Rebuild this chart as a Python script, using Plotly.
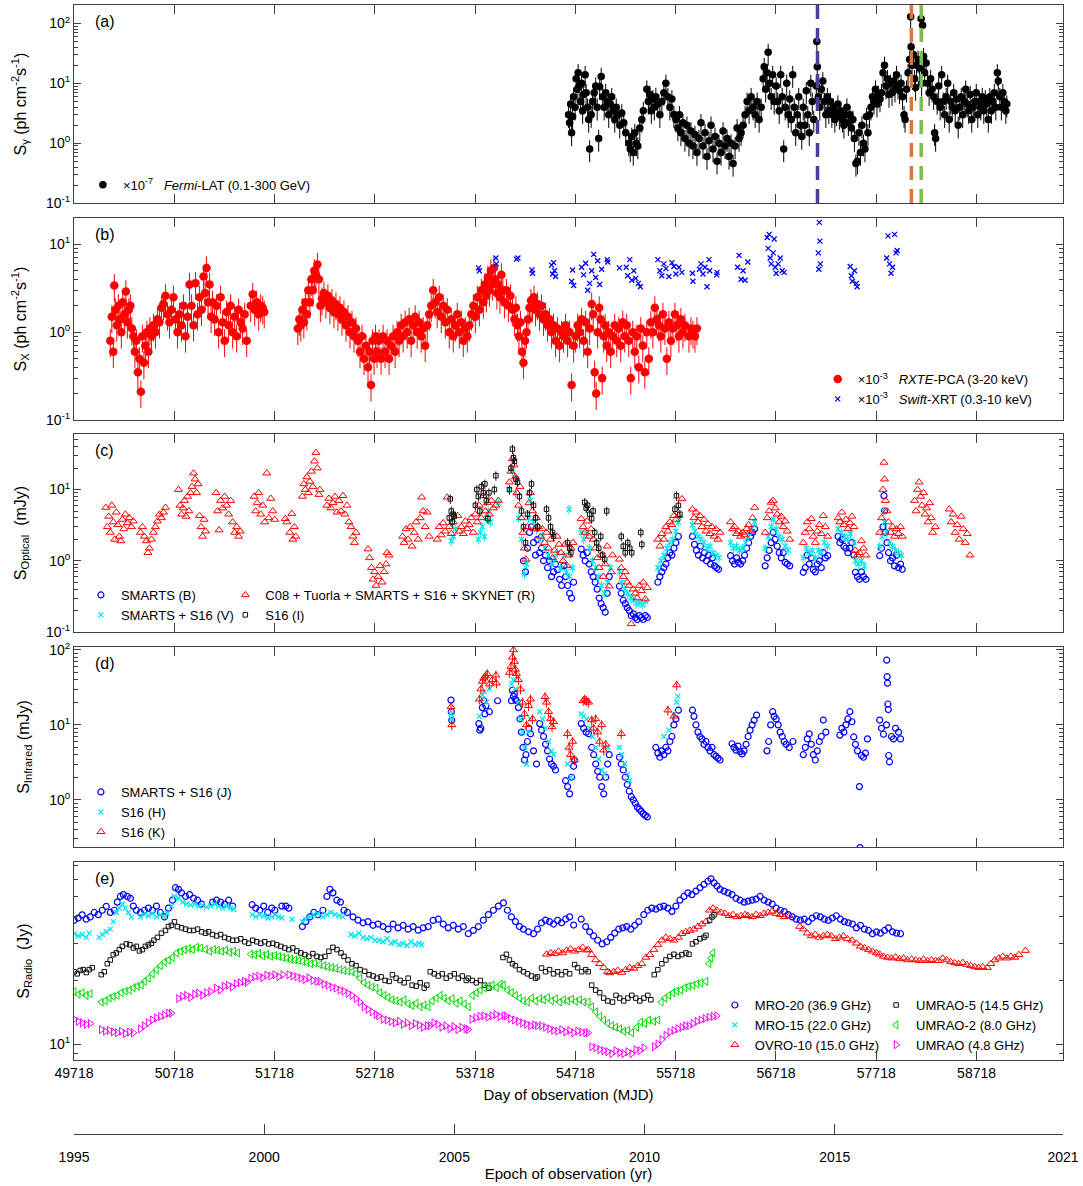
import plotly.graph_objects as go

# ---------------- (a) Fermi-LAT gamma rays (x1e-7 ph cm^-2 s^-1) ----------------
gamma_mjd = [54650, 54660, 54670, 54680, 54690, 54700, 54715, 54725, 54735, 54745, 54755, 54770, 54780, 54790,
             54800, 54815, 54825, 54840, 54850, 54860, 54875, 54890, 54905, 54920, 54935, 54950,
             54960, 54975, 54990, 55005, 55020, 55035, 55050, 55065, 55080, 55095, 55110, 55125, 55140, 55160,
             55180, 55200, 55220, 55250, 55265, 55280, 55295, 55310, 55325, 55340, 55360, 55380, 55395,
             55430, 55445, 55460, 55475, 55490, 55505, 55520, 55540, 55560, 55580, 55600, 55620, 55640, 55660,
             55680, 55700, 55720, 55740, 55755, 55770, 55790, 55810, 55830, 55850, 55870, 55890, 55910,
             55930, 55950, 55970, 55990, 56010, 56030, 56050, 56070, 56090, 56110, 56130, 56150, 56170, 56190,
             56210, 56230, 56250, 56270, 56290, 56310, 56330, 56350, 56370, 56390, 56410, 56430, 56450, 56470,
             56490, 56510, 56530, 56550, 56570, 56590, 56600, 56615, 56630, 56640, 56655, 56670, 56685, 56700,
             56720, 56735, 56750, 56765, 56780, 56795, 56810, 56825, 56840, 56855, 56870, 56885, 56900, 56915,
             56930, 56945, 56960, 56975, 56990, 57005, 57020, 57035, 57050, 57065, 57080, 57095, 57120, 57125,
             57130, 57140, 57155, 57170, 57185, 57200, 57215, 57230, 57245, 57260, 57275, 57290, 57305, 57320,
             57335, 57350, 57365, 57380, 57395, 57410, 57425, 57440, 57455, 57470, 57485, 57500, 57515, 57530,
             57545, 57560, 57575, 57590, 57605, 57620, 57635, 57650, 57665, 57680, 57695, 57710, 57725, 57740,
             57755, 57770, 57785, 57800, 57815, 57830, 57845, 57860, 57875, 57890, 57905, 57920, 57935, 57950,
             57965, 57980, 57995, 58005, 58020, 58035, 58050, 58061, 58065, 58075, 58090, 58100, 58110, 58120,
             58135, 58150, 58165, 58170, 58180, 58190, 58200, 58215, 58230, 58245, 58260, 58275, 58290, 58300,
             58310, 58325, 58340, 58355, 58370, 58385, 58400, 58415, 58430, 58445, 58460, 58475, 58490, 58505,
             58520, 58535, 58550, 58565, 58580, 58595, 58610, 58625, 58640, 58655, 58670, 58685, 58700, 58715,
             58730, 58745, 58760, 58775, 58790, 58805, 58820, 58835, 58850, 58865, 58880, 58895, 58910, 58925,
             58935, 58950, 58965, 58980, 58995, 59010, 59020]
gamma_flux = [3.0, 2.2, 4.5, 1.5, 2.8, 6.0, 4.0, 12.0, 8.0, 15.0, 9.0, 5.0, 10.0, 3.5,
              6.5, 14.0, 7.0, 4.0, 2.5, 0.8, 3.0, 5.0, 7.0, 9.0, 4.0, 1.2,
              8.8, 13.0, 6.0, 4.0, 7.0, 5.0, 3.0, 4.5, 6.0, 3.5, 2.5, 4.0, 3.0, 2.0,
              3.2, 2.2, 1.5, 1.0, 0.8, 1.3, 0.7, 1.5, 1.0, 0.9, 1.8, 2.5, 3.5,
              8.0, 5.0, 6.5, 3.5, 5.5, 4.0, 6.0, 4.5, 3.0, 5.0, 7.0, 10.0, 6.0, 4.0,
              5.5, 3.0, 2.5, 1.8, 3.0, 1.5, 2.2, 1.2, 2.0, 1.0, 1.6, 0.9, 1.4,
              0.7, 1.2, 2.2, 0.9, 1.5, 0.6, 1.1, 2.0, 0.8, 1.3, 0.5, 1.0, 0.7, 1.6,
              0.9, 1.2, 0.6, 1.0, 0.46, 0.9, 1.8, 1.2, 1.5, 2.0, 3.0, 5.0, 3.5, 6.0,
              4.0, 3.0, 5.0, 2.5, 4.0, 12.0, 19.0, 8.0, 15.0, 33.0, 10.0, 6.0, 14.0, 5.0,
              9.0, 5.0, 3.5, 14.0, 6.0, 0.8, 4.0, 10.0, 3.0, 5.5, 2.5, 14.0, 4.0, 1.5,
              3.0, 6.0, 2.0, 1.3, 4.0, 2.0, 7.5, 3.0, 1.5, 10.0, 5.0, 2.5, 9.0, 50.0,
              19.0, 6.0, 4.0, 8.0, 11.0, 5.0, 3.0, 6.0, 3.5, 5.0, 3.0, 4.0, 2.5, 3.2,
              4.5, 2.8, 3.5, 2.5, 2.0, 3.0, 4.0, 2.2, 3.0, 1.8, 2.5, 1.2, 0.46, 0.5,
              1.5, 0.7, 2.0, 1.0, 0.8, 2.8, 1.5, 3.0, 4.0, 6.0, 5.0, 8.0, 4.5, 6.5,
              5.5, 7.0, 15.0, 20.0, 9.0, 12.0, 6.5, 10.0, 7.0, 11.0, 8.0, 14.0, 9.0, 7.5,
              10.0, 6.0, 3.0, 2.5, 8.0, 15.0, 25.0, 130.0, 41.0, 20.0, 30.0, 12.0, 8.5, 20.0,
              25.0, 18.0, 120.0, 10.0, 94.0, 28.0, 15.0, 22.0, 10.0, 7.0, 12.0, 8.0, 6.0, 1.5,
              1.2, 5.0, 9.0, 4.0, 14.0, 5.0, 3.0, 6.0, 10.0, 2.5, 5.0, 4.0, 7.0, 3.5,
              5.5, 2.0, 4.0, 6.0, 3.0, 5.0, 8.0, 4.5, 3.5, 6.5, 2.5, 4.0, 5.0, 7.0,
              3.0, 5.0, 4.0, 6.0, 3.5, 5.5, 4.5, 2.5, 6.0, 3.5, 5.0, 7.0, 4.0, 15.0,
              11.0, 6.0, 4.0, 7.0, 5.0, 3.5, 4.5]

# flare epochs marked in panel (a)
flare_mjd = [57132, 58068, 58166]
flare_colors = ["#473f9c", "#df7438", "#7cbd4b"]

# ---------------- (b) X-rays (x1e-3 ph cm^-2 s^-1) ----------------
rxte_mjd = [50080, 50095, 50110, 50120, 50130, 50145, 50160, 50175, 50190, 50205, 50220, 50235, 50250, 50265,
            50280, 50295, 50310, 50325, 50340, 50355, 50370, 50385, 50400, 50415, 50430, 50445, 50460, 50475,
            50490, 50510, 50530, 50550, 50570, 50590, 50610, 50630, 50650, 50670, 50690, 50710, 50730, 50750,
            50770, 50790, 50810, 50830, 50850, 50870, 50890, 50910, 50930, 50950, 50970, 50990, 51010, 51025,
            51040, 51055, 51070, 51085, 51100, 51120, 51140, 51160, 51180, 51200, 51220, 51240, 51260, 51280,
            51300, 51320, 51340, 51360, 51380, 51400, 51420, 51440, 51480, 51500, 51520, 51540, 51560, 51580,
            51600, 51615,
            51950, 51965, 51980, 51995, 52010, 52025, 52040, 52055, 52070, 52085, 52100, 52115, 52130, 52145,
            52160, 52175, 52190, 52210, 52230, 52250, 52270, 52290, 52310, 52330, 52350, 52370, 52390, 52410,
            52430, 52450, 52470, 52490, 52510, 52530, 52550, 52570, 52590, 52610, 52630, 52650, 52665, 52680,
            52695, 52710, 52725, 52740, 52760, 52780, 52800, 52820, 52840, 52860, 52880, 52900, 52920, 52940,
            52960, 52980, 53000, 53020, 53040, 53060, 53080, 53100, 53120, 53140, 53160, 53180, 53200, 53220,
            53240, 53260, 53280, 53300, 53320, 53340, 53360, 53380, 53400, 53420, 53440, 53460, 53480, 53500,
            53520, 53540, 53560, 53580, 53600, 53620, 53640, 53660, 53680, 53700, 53720, 53740, 53760, 53780,
            53800, 53815, 53830, 53845, 53860, 53875, 53890, 53905, 53920, 53935, 53950, 53965, 53980, 53995,
            54010, 54030, 54050, 54070, 54090, 54110, 54125, 54140, 54155, 54170, 54185, 54200, 54215, 54230,
            54245, 54260, 54275, 54290, 54305, 54320, 54340, 54360, 54380, 54400, 54420, 54440, 54460, 54480,
            54500, 54520, 54540, 54560, 54580, 54600, 54620, 54640, 54660, 54680, 54700, 54720, 54740, 54760,
            54780, 54800, 54820, 54840, 54860, 54880, 54895, 54910, 54925, 54940, 54955, 54970, 54985, 55000,
            55015, 55030, 55050, 55070, 55090, 55110, 55130, 55150, 55170, 55190, 55210, 55230, 55250, 55270,
            55290, 55310, 55330, 55350, 55370, 55390, 55410, 55430, 55450, 55470, 55490, 55510, 55530, 55550,
            55570, 55590, 55610, 55630, 55650, 55670, 55690, 55710, 55730, 55750, 55770, 55790, 55810, 55850,
            55870, 55890, 55910, 55930]
rxte_flux = [0.8, 1.5, 0.6, 3.4, 1.8, 1.2, 2.0, 1.4, 1.0, 2.2, 1.6, 2.9, 1.3, 1.8,
             2.0, 1.1, 0.9, 0.6, 0.8, 0.35, 0.5, 0.21, 0.9, 0.45, 0.7, 1.0, 0.6, 1.1,
             0.9, 1.2, 1.0, 1.4, 1.3, 1.9, 2.1, 2.6, 1.6, 1.3, 1.8, 2.5, 1.4, 1.0,
             1.6, 1.2, 2.0, 0.9, 1.5, 3.5, 2.0, 1.2, 3.6, 1.6, 2.5, 1.8, 4.3, 2.8,
             5.4, 2.2, 3.5, 1.5, 2.2, 1.4, 2.0, 1.0, 2.5, 1.3, 0.8, 1.7, 1.2, 2.0,
             1.0, 1.5, 0.9, 1.8, 1.3, 1.1, 1.6, 0.8, 2.0, 2.7, 1.8, 2.2, 1.6, 2.0,
             1.9, 1.7,
             1.1, 1.4, 1.2, 1.8, 1.3, 2.2, 1.6, 3.0, 2.2, 4.0, 3.0, 5.0, 4.5, 5.9,
             4.0, 2.0, 2.4, 2.8, 2.2, 2.6, 1.9, 2.3, 1.7, 2.1, 1.6, 1.9, 1.4, 1.7,
             1.2, 1.5, 1.0, 1.3, 0.9, 1.1, 0.8, 0.6, 0.9, 0.5, 0.7, 0.4, 0.6, 0.25,
             0.8, 0.5, 0.9, 0.6, 0.8, 0.5, 0.9, 0.6, 0.8, 0.5, 0.7, 0.9, 0.6, 1.0,
             0.8, 1.2, 0.9, 1.3, 1.0, 1.4, 0.8, 1.2, 1.5, 1.0, 1.3, 0.9, 1.1, 0.7,
             1.2, 1.6, 2.0, 3.0, 2.2, 1.7, 2.5, 1.5, 2.0, 1.3, 1.8, 1.0, 1.4, 0.9,
             1.2, 1.6, 1.0, 1.3, 0.8, 1.1, 0.9, 1.2, 1.6, 2.0, 1.5, 2.5, 1.8, 3.0,
             2.2, 3.5, 2.6, 4.2, 3.0, 5.0, 3.5, 5.4, 4.0, 2.8, 3.5, 2.5, 4.5, 3.0,
             2.2, 3.0, 2.0, 2.6, 1.8, 1.4, 1.9, 1.2, 0.9, 1.3, 0.6, 0.45, 0.8, 1.0,
             1.4, 1.9, 2.3, 2.0, 2.5, 1.8, 2.1, 1.6, 2.0, 1.4, 1.6, 1.2, 1.4, 1.0,
             1.2, 0.8, 1.1, 0.7, 1.0, 0.9, 1.2, 0.8, 1.0, 0.25, 0.7, 0.9, 1.2, 1.0,
             1.4, 0.8, 1.3, 0.6, 1.1, 2.1, 1.6, 0.35, 0.2, 1.0, 1.9, 1.4, 0.3, 0.9,
             1.2, 0.7, 1.0, 0.6, 0.9, 1.2, 0.8, 1.1, 0.7, 1.3, 0.9, 1.2, 0.8, 0.3,
             1.0, 0.6, 0.9, 0.4, 1.1, 0.7, 0.35, 1.0, 0.5, 1.3, 1.0, 1.9, 1.4, 1.2,
             0.9, 1.6, 1.1, 0.5, 1.3, 0.8, 1.1, 1.6, 1.2, 0.9, 1.4, 1.0, 1.2, 0.9,
             1.1, 1.0, 0.9, 1.1]

swift_mjd = [53752, 53760, 53925, 53930, 54130, 54145, 54285, 54290, 54480, 54490, 54500, 54510, 54520,
             54680, 54690, 54700, 54780, 54800, 54820, 54840, 54860, 54880, 54900, 54920, 54940, 54960,
             54980, 55035, 55040, 55157, 55225, 55240, 55260, 55280, 55300, 55320, 55345, 55365, 55540,
             55560, 55580, 55600, 55620, 55650, 55680, 55700, 55720, 55750, 55780, 55885, 55890, 55955,
             55970, 55990, 56010, 56030, 56050, 56057, 56127, 56130, 56335, 56350, 56370, 56390, 56410,
             56437, 56630, 56640, 56650, 56660, 56670, 56690, 56700, 56710, 56720, 56740, 56760, 56780,
             56800, 57140, 57145, 57150, 57155, 57160, 57458, 57470, 57480, 57500, 57520, 57528, 57822,
             57835, 57850, 57865, 57880, 57900, 57915, 57926]
swift_flux = [5.4, 5.0, 7.0, 6.0, 6.8, 7.0, 5.1, 4.7, 5.8, 4.6, 6.2, 5.0, 4.3,
              3.8, 5.1, 3.4, 5.5, 4.5, 6.1, 3.0, 3.6, 5.0, 7.7, 4.2, 6.5, 3.5,
              5.2, 6.7, 6.3, 5.4, 5.5, 4.4, 6.7, 3.9, 5.0, 4.1, 3.6, 3.3, 6.7,
              5.0, 4.4, 6.0, 5.3, 4.3, 6.2, 5.6, 4.6, 5.5, 4.8, 4.7, 3.8, 5.2,
              6.0, 4.6, 5.5, 3.3, 6.7, 5.0, 4.5, 4.8, 5.5, 7.5, 4.0, 5.0, 3.9,
              6.3, 12.0, 9.0, 13.0, 7.0, 6.0, 8.0, 11.5, 5.5, 4.7, 6.0, 7.0, 5.0,
              4.8, 8.0, 5.2, 17.8, 10.9, 6.0, 5.6, 4.4, 3.8, 5.0, 3.6, 3.3, 7.0,
              12.5, 6.0, 4.7, 5.5, 13.0, 8.0, 8.5]

# ---------------- (c) Optical (mJy) ----------------
optR_mjd = [50035, 50050, 50065, 50080, 50095, 50110, 50125, 50140, 50155, 50170, 50185, 50200, 50215, 50230,
            50250, 50270, 50290, 50310, 50380, 50400, 50420, 50440, 50455, 50470, 50490, 50510, 50530, 50550,
            50570, 50590, 50610, 50630, 50760, 50775, 50790, 50805, 50820, 50835, 50850, 50865, 50880, 50895,
            50910, 50925, 50940, 50955, 50970, 50985, 51000, 51015, 51030, 51135, 51150, 51165, 51180, 51200,
            51220, 51240, 51260, 51280, 51300, 51320, 51340, 51360, 51375, 51515, 51530, 51545, 51560, 51580,
            51600, 51620, 51640, 51660, 51680, 51700, 51720, 51825, 51840, 51870, 51890, 51900, 51915, 51930,
            51995, 52010, 52025, 52040, 52055, 52070, 52085, 52100, 52115, 52130, 52145, 52160, 52170, 52240,
            52260, 52280, 52300, 52320, 52340, 52360, 52380, 52400, 52420, 52440, 52460, 52480, 52500, 52515,
            52530, 52650, 52665, 52685, 52700, 52715, 52730, 52750, 52770, 52790, 52810, 52830, 52840, 52860,
            52995, 53010, 53030, 53050, 53070, 53090, 53110, 53130, 53150, 53170, 53185, 53200, 53220, 53240,
            53260, 53340, 53360, 53380, 53400, 53420, 53440, 53460, 53480, 53500, 53545, 53560, 53580, 53600,
            53620, 53640, 53660, 53680, 53700, 53720, 53740, 53760, 53780, 53800, 53820, 53840, 53860, 53880,
            53900, 53925, 53950, 54060, 54075, 54090, 54105, 54120, 54135, 54150, 54165, 54180, 54195, 54210,
            54225, 54240, 54255, 54270, 54290, 54310, 54330, 54350, 54370, 54390, 54410, 54430, 54450, 54470,
            54490, 54510, 54535, 54555, 54575, 54595, 54615, 54635, 54655, 54675, 54695, 54776, 54795, 54815,
            54835, 54855, 54875, 54895, 54915, 54935, 54955, 54975, 54995, 55015, 55035, 55055, 55075, 55088,
            55157, 55175, 55195, 55215, 55235, 55255, 55275, 55295, 55315, 55335, 55355, 55375, 55395, 55415,
            55435, 55540, 55560, 55580, 55600, 55620, 55640, 55660, 55680, 55700, 55720, 55745, 55780, 55885,
            55900, 55920, 55940, 55960, 55980, 56000, 56020, 56040, 56060, 56080, 56100, 56120, 56140, 56160,
            56265, 56285, 56305, 56325, 56345, 56365, 56385, 56405, 56425, 56445, 56465, 56485, 56505, 56610,
            56630, 56650, 56670, 56690, 56710, 56730, 56750, 56770, 56790, 56810, 56830, 56855, 56990, 57010,
            57030, 57050, 57070, 57090, 57110, 57130, 57150, 57170, 57190, 57210, 57234, 57337, 57355, 57375,
            57395, 57415, 57435, 57455, 57475, 57495, 57510, 57530, 57550, 57570, 57590, 57615, 57752, 57770,
            57785, 57795, 57800, 57810, 57825, 57840, 57860, 57880, 57900, 57920, 57940, 57960, 57977, 58100,
            58115, 58130, 58145, 58160, 58175, 58190, 58205, 58220, 58235, 58250, 58265, 58280, 58306, 58445,
            58465, 58485, 58505, 58525, 58545, 58565, 58585, 58605, 58625, 58652]
optR_flux = [5.6, 3.0, 4.2, 2.5, 6.0, 3.5, 2.0, 4.8, 3.2, 2.2, 1.9, 3.8, 2.8, 4.5,
             3.4, 4.0, 3.0, 3.6, 2.5, 3.0, 2.2, 1.9, 1.3, 1.5, 2.0, 2.5, 3.0, 3.6,
             4.5, 4.0, 4.8, 5.6, 10.0, 6.0, 4.5, 5.5, 7.0, 4.2, 8.0, 5.0, 9.0, 11.0,
             17.0, 14.0, 9.0, 12.0, 4.3, 3.0, 2.2, 3.8, 2.6, 9.0, 5.0, 2.7, 7.0, 5.5,
             8.0, 6.0, 4.5, 7.0, 3.5, 2.5, 3.0, 2.2, 2.6, 8.0, 5.0, 6.5, 9.0, 4.5,
             6.0, 3.5, 17.0, 4.0, 7.5, 5.0, 3.8, 3.9, 3.5, 2.5, 4.6, 2.0, 3.0, 2.2,
             8.0, 12.0, 10.0, 15.0, 9.0, 13.0, 18.0, 11.0, 25.0, 33.0, 20.0, 8.5, 10.0, 6.0,
             7.5, 5.5, 6.5, 8.0, 4.8, 7.0, 5.0, 8.2, 4.5, 6.0, 3.5, 3.0, 2.2, 1.8,
             2.5, 1.46, 1.1, 0.8, 0.55, 0.7, 0.45, 0.6, 0.85, 0.5, 0.7, 0.9, 1.3, 1.2,
             2.2, 1.8, 2.8, 2.0, 3.0, 1.6, 2.5, 3.5, 2.0, 4.0, 7.8, 5.0, 3.0, 4.8,
             2.2, 2.0, 3.0, 2.3, 3.4, 2.6, 7.8, 3.0, 2.4, 3.5, 4.3, 2.6, 3.0, 2.4,
             3.6, 2.8, 3.2, 4.0, 2.5, 4.5, 3.5, 6.0, 4.0, 8.2, 5.0, 6.5, 4.5, 7.0,
             5.5, 6.0, 7.0, 12.7, 18.0, 27.0, 22.0, 15.0, 9.0, 6.0, 11.0, 4.0, 2.5, 1.5,
             1.05, 3.0, 6.5, 9.0, 5.0, 2.8, 4.0, 3.0, 2.2, 2.8, 1.8, 2.5, 1.5, 2.0,
             1.1, 1.4, 2.2, 1.7, 1.3, 1.0, 1.7, 0.85, 1.2, 1.5, 1.8, 3.9, 3.0, 2.5,
             3.6, 2.2, 2.8, 2.0, 1.5, 1.1, 0.8, 1.2, 0.6, 0.9, 1.6, 0.44, 0.7, 1.2,
             1.05, 0.8, 0.6, 0.7, 0.5, 0.45, 0.13, 0.4, 0.35, 0.3, 0.45, 0.38, 0.5, 0.29,
             0.42, 2.0, 1.6, 2.4, 2.0, 3.0, 2.6, 3.5, 3.2, 4.3, 3.8, 4.3, 7.4, 5.3,
             4.0, 4.8, 3.5, 4.3, 3.0, 3.8, 2.6, 3.3, 2.4, 3.0, 2.2, 2.8, 2.0, 2.5,
             3.5, 2.8, 3.0, 2.4, 2.6, 2.2, 2.5, 2.3, 2.8, 3.2, 2.6, 4.0, 5.6, 2.5,
             4.0, 5.0, 6.6, 7.0, 5.5, 4.5, 3.5, 4.2, 3.0, 3.6, 2.6, 2.0, 1.8, 2.5,
             3.5, 2.8, 3.9, 2.2, 1.8, 2.6, 3.2, 2.4, 4.3, 3.0, 2.2, 4.0, 3.5, 4.8,
             3.2, 3.8, 2.8, 3.4, 4.2, 3.0, 1.4, 1.2, 1.3, 1.9, 1.5, 1.2, 2.5, 4.0,
             10.0, 24.0, 14.0, 7.0, 5.0, 3.5, 2.5, 3.0, 2.2, 2.8, 2.4, 3.0, 2.2, 7.0,
             5.0, 10.0, 12.7, 8.0, 6.0, 9.0, 4.5, 5.5, 3.5, 6.5, 4.0, 2.5, 3.0, 5.3,
             3.5, 4.5, 2.5, 3.2, 2.0, 4.2, 2.8, 1.8, 2.4, 1.2]

optB_mjd = [54200, 54220, 54240, 54260, 54280, 54300, 54320, 54340, 54360, 54380, 54400, 54420, 54440, 54460,
            54480, 54500, 54520, 54540, 54560, 54580, 54604, 54620, 54640, 54660, 54680, 54700, 54776, 54795,
            54815, 54835, 54855, 54875, 54895, 54915, 54935, 54955, 54975, 54995, 55015, 55035, 55055, 55157,
            55175, 55195, 55215, 55235, 55255, 55275, 55295, 55315, 55335, 55355, 55375, 55395, 55415, 55435,
            55540, 55560, 55580, 55600, 55620, 55640, 55660, 55680, 55700, 55720, 55745, 55885, 55905, 55925,
            55945, 55965, 55985, 56005, 56025, 56045, 56065, 56085, 56105, 56125, 56145, 56265, 56285, 56305,
            56325, 56345, 56365, 56385, 56405, 56425, 56445, 56465, 56485, 56505, 56610, 56630, 56650, 56670,
            56690, 56710, 56730, 56750, 56770, 56790, 56810, 56830, 56855, 56990, 57010, 57030, 57050, 57070,
            57090, 57110, 57130, 57150, 57170, 57190, 57210, 57234, 57337, 57355, 57375, 57395, 57415, 57435,
            57455, 57475, 57495, 57510, 57530, 57550, 57570, 57590, 57615, 57752, 57770, 57785, 57795, 57800,
            57810, 57825, 57840, 57860, 57880, 57900, 57920, 57940, 57960, 57977]
optB_flux = [1.0, 0.7, 1.5, 2.5, 3.0, 1.8, 1.2, 2.0, 1.3, 1.5, 1.0, 1.2, 0.8, 1.0,
             0.6, 0.7, 0.9, 0.75, 0.55, 0.45, 0.85, 0.6, 0.45, 0.35, 0.3, 0.5, 1.46, 1.2,
             1.0, 1.3, 0.9, 0.7, 0.6, 0.5, 0.4, 0.3, 0.25, 0.22, 0.19, 0.35, 0.6, 0.44,
             0.35, 0.28, 0.25, 0.22, 0.2, 0.17, 0.18, 0.16, 0.15, 0.17, 0.16, 0.15, 0.17, 0.16,
             0.5, 0.6, 0.7, 0.8, 0.9, 1.1, 1.3, 1.2, 1.5, 1.8, 2.2, 2.2, 1.7, 1.4,
             1.2, 1.6, 1.1, 1.3, 1.0, 1.2, 0.9, 1.1, 0.85, 0.8, 0.76, 1.18, 1.0, 0.9,
             1.1, 0.95, 0.9, 1.0, 1.2, 1.5, 1.8, 2.2, 2.5, 2.8, 0.85, 1.1, 1.4, 1.8,
             2.5, 2.0, 1.6, 1.3, 1.1, 1.3, 0.95, 0.9, 0.85, 0.69, 0.8, 1.2, 0.9, 1.1,
             0.75, 0.7, 0.9, 1.0, 0.8, 1.3, 1.1, 1.18, 2.2, 1.8, 2.0, 1.6, 1.5, 1.3,
             1.5, 1.8, 1.2, 0.69, 0.6, 0.55, 0.7, 0.6, 0.55, 1.18, 1.5, 3.0, 8.2, 5.0,
             2.5, 1.8, 1.3, 1.0, 1.1, 0.85, 1.2, 0.8, 0.9, 0.76]

optV_mjd = [53480, 53500, 53520, 53750, 53770, 53790, 53810, 53830, 53850, 53870, 53950, 54060, 54090, 54120,
            54150, 54180, 54210, 54230, 54250, 54270, 54300, 54330, 54360, 54390, 54420, 54450, 54480, 54510,
            54540, 54570, 54604, 54630, 54655, 54660, 54690, 54776, 54800, 54830, 54860, 54890, 54920, 54950,
            54980, 55010, 55040, 55070, 55157, 55180, 55210, 55240, 55270, 55300, 55330, 55360, 55390, 55420,
            55540, 55570, 55600, 55630, 55660, 55690, 55720, 55745, 55885, 55910, 55940, 55970, 56000, 56030,
            56060, 56090, 56120, 56150, 56265, 56295, 56325, 56355, 56385, 56415, 56445, 56475, 56505, 56610,
            56640, 56670, 56690, 56720, 56750, 56780, 56810, 56840, 56990, 57020, 57050, 57080, 57110, 57140,
            57170, 57200, 57234, 57337, 57370, 57400, 57430, 57460, 57495, 57510, 57540, 57570, 57600, 57752,
            57775, 57790, 57800, 57820, 57850, 57880, 57910, 57940, 57970]
optV_flux = [1.9, 2.2, 2.8, 2.0, 2.5, 3.0, 2.2, 4.0, 5.0, 3.5, 6.5, 10.0, 18.0, 9.0,
             4.0, 2.0, 0.65, 0.9, 4.0, 7.0, 3.5, 2.8, 2.0, 2.2, 1.5, 1.2, 0.9, 1.1,
             1.3, 0.8, 1.2, 0.7, 5.3, 0.6, 0.8, 2.5, 2.0, 2.4, 1.5, 1.0, 0.8, 0.6,
             0.45, 0.35, 0.5, 0.8, 0.7, 0.5, 0.4, 0.35, 0.3, 0.28, 0.25, 0.26, 0.24, 0.27,
             0.8, 1.0, 1.2, 1.5, 1.8, 2.0, 2.6, 3.5, 3.2, 2.6, 2.2, 2.0, 1.8, 1.5,
             1.6, 1.3, 1.2, 1.1, 1.8, 1.5, 1.6, 1.4, 1.5, 1.8, 2.2, 2.8, 3.5, 1.5,
             2.2, 3.0, 3.8, 2.8, 2.2, 2.0, 1.6, 1.4, 1.1, 1.5, 1.3, 1.4, 1.1, 1.4,
             1.3, 1.8, 1.6, 2.8, 2.5, 2.2, 2.0, 2.4, 1.8, 1.0, 0.9, 1.0, 0.85, 1.6,
             2.2, 5.0, 3.5, 2.5, 1.8, 1.6, 1.4, 1.3, 1.2]

optI_mjd = [53460, 53470, 53480, 53490, 53500, 53510, 53720, 53735, 53750, 53765, 53780, 53800, 53815, 53830,
            53845, 53855, 53910, 53925, 54060, 54075, 54090, 54100, 54110, 54125, 54140, 54160, 54180, 54200,
            54220, 54240, 54260, 54280, 54300, 54320, 54340, 54430, 54450, 54470, 54490, 54500, 54640, 54660,
            54673, 54810, 54825, 54840, 54860, 54880, 54895, 54910, 54930, 54950, 54970, 54990, 55010, 55030,
            55175, 55195, 55215, 55240, 55260, 55280, 55370, 55380, 55710, 55725, 55745, 55760]
optI_flux = [4.0, 7.4, 5.0, 3.5, 4.5, 4.2, 6.0, 10.0, 8.0, 5.0, 11.0, 9.0, 12.0, 7.0,
             3.9, 9.0, 10.0, 15.7, 10.0, 20.0, 37.0, 28.0, 25.0, 14.0, 12.7, 8.0, 5.0, 3.0,
             1.8, 4.5, 9.0, 12.0, 6.0, 4.0, 3.0, 5.3, 4.0, 3.0, 2.5, 2.2, 1.8, 1.5,
             1.3, 6.6, 5.5, 6.0, 4.5, 3.9, 5.0, 2.5, 1.8, 1.5, 2.2, 1.2, 1.05, 5.0,
             2.2, 1.6, 1.3, 1.8, 1.5, 1.3, 2.5, 1.7, 5.3, 8.2, 6.0, 4.5]

# ---------------- (d) Infrared (mJy) ----------------
irJ_mjd = [53477, 53480, 53485, 53755, 53765, 53775, 53790, 53805, 53815, 53825, 53860, 53942, 54080, 54090,
           54100, 54110, 54120, 54130, 54150, 54165, 54180, 54195, 54210, 54225, 54240, 54255, 54270, 54300,
           54330, 54362, 54380, 54400, 54420, 54440, 54460, 54480, 54500, 54520, 54620, 54640, 54660, 54680,
           54700, 54708, 54776, 54800, 54825, 54850, 54880, 54900, 54920, 54940, 54960, 54980, 55000, 55020,
           55040, 55055, 55157, 55175, 55195, 55215, 55235, 55255, 55275, 55295, 55315, 55335, 55355, 55375,
           55395, 55415, 55435, 55520, 55540, 55560, 55580, 55600, 55620, 55640, 55660, 55680, 55700, 55720,
           55745, 55885, 55900, 55920, 55940, 55960, 55980, 56000, 56020, 56040, 56060, 56080, 56100, 56120,
           56140, 56160, 56280, 56300, 56320, 56340, 56360, 56380, 56400, 56420, 56440, 56460, 56480, 56500,
           56525, 56628, 56645, 56665, 56685, 56700, 56720, 56740, 56760, 56780, 56800, 56820, 56850, 56887,
           56990, 57010, 57030, 57050, 57070, 57090, 57110, 57130, 57150, 57170, 57190, 57215, 57355, 57375,
           57395, 57415, 57435, 57455, 57475, 57493, 57510, 57530, 57550, 57555, 57570, 57590, 57610, 57630,
           57752, 57770, 57790, 57820, 57822, 57826, 57830, 57834, 57838, 57842, 57850, 57870, 57890, 57910,
           57940, 57960]
irJ_flux = [21.4, 15.0, 11.5, 10.4, 8.5, 9.0, 17.0, 21.0, 14.0, 18.0, 15.0, 21.0, 21.0, 29.0,
            24.0, 26.0, 22.0, 21.0, 17.0, 12.0, 8.0, 5.0, 3.4, 4.0, 6.0, 9.0, 7.6, 4.5,
            3.0, 10.4, 8.5, 7.0, 5.5, 4.5, 3.5, 3.0, 2.8, 2.5, 1.8, 1.5, 1.2, 2.0,
            2.8, 3.4, 10.4, 9.0, 8.0, 7.6, 5.0, 4.0, 3.0, 2.4, 2.0, 1.5, 1.2, 2.0,
            3.0, 4.0, 3.7, 3.0, 2.5, 2.0, 1.6, 1.3, 1.1, 1.0, 0.9, 0.8, 0.75, 0.7,
            0.65, 0.62, 0.59, 5.0, 4.2, 3.7, 4.5, 4.0, 5.0, 4.5, 6.0, 7.0, 10.0, 12.0,
            15.7, 15.7, 13.0, 10.0, 8.0, 7.0, 6.5, 5.5, 6.0, 5.0, 4.5, 5.0, 4.0, 3.8,
            3.6, 3.4, 5.6, 5.0, 4.6, 5.2, 4.4, 4.1, 4.5, 5.5, 7.0, 8.5, 10.0, 11.5,
            13.5, 4.5, 6.0, 10.0, 15.0, 13.0, 12.0, 10.0, 8.0, 7.0, 6.0, 5.5, 5.0, 6.0,
            4.0, 5.0, 6.5, 7.6, 5.5, 4.0, 3.4, 4.5, 6.0, 7.0, 11.6, 8.0, 7.3, 9.0,
            8.0, 10.0, 12.0, 15.0, 11.0, 6.9, 5.5, 4.5, 1.5, 0.23, 3.9, 3.7, 4.2, 6.5,
            11.6, 9.0, 7.5, 10.0, 73.0, 44.0, 36.0, 19.0, 16.0, 3.9, 3.2, 7.0, 6.5, 9.0,
            8.0, 6.5]

irH_mjd = [53477, 53485, 53760, 53790, 53810, 53830, 53860, 54080, 54100, 54120, 54150, 54170, 54190, 54210,
           54230, 54250, 54270, 54362, 54390, 54420, 54450, 54480, 54500, 54640, 54670, 54700, 54776, 54800,
           54830, 54860, 54890, 54920, 54950, 54980, 55010, 55040, 55157, 55180, 55210, 55240, 55260, 55600,
           55650, 55700, 55728, 55740]
irH_flux = [14.0, 12.0, 13.0, 25.0, 28.0, 20.0, 30.0, 35.0, 40.0, 30.0, 20.0, 12.0, 8.0, 5.0,
            3.0, 8.0, 12.0, 15.0, 12.0, 9.0, 6.0, 4.5, 4.0, 3.0, 2.0, 3.5, 14.0, 13.0,
            12.0, 9.0, 7.0, 5.0, 3.5, 2.5, 2.2, 5.0, 5.0, 4.0, 3.0, 2.2, 1.8, 7.0,
            8.5, 14.0, 20.0, 24.0]

irK_mjd = [53477, 53485, 53760, 53775, 53790, 53805, 53820, 53840, 53860, 53890, 53925, 53930, 54060, 54075,
           54090, 54100, 54110, 54120, 54130, 54150, 54170, 54190, 54210, 54230, 54250, 54270, 54290, 54415,
           54430, 54450, 54470, 54485, 54500, 54638, 54655, 54670, 54690, 54708, 54795, 54810, 54830, 54850,
           54880, 54900, 54920, 54940, 54960, 54980, 55000, 55020, 55175, 55640, 55700, 55728]
irK_flux = [17.4, 10.0, 22.0, 30.0, 38.0, 42.0, 45.0, 48.0, 35.0, 40.0, 46.0, 36.0, 50.0, 60.0,
            80.0, 100.0, 70.0, 55.0, 48.0, 40.0, 30.0, 20.0, 14.0, 10.0, 18.0, 22.0, 12.0, 23.7,
            20.0, 15.0, 12.0, 9.4, 11.0, 7.6, 5.0, 4.0, 6.0, 3.4, 21.0, 22.0, 21.0, 20.0,
            11.6, 9.0, 12.0, 8.0, 6.0, 10.0, 4.6, 5.5, 7.6, 15.7, 13.0, 34.0]

# ---------------- (e) Radio (Jy) ----------------
mro20_mjd = [49720, 49760, 49800, 49840, 49880, 49920, 49960, 50000, 50040, 50080, 50120, 50150, 50180, 50210,
             50250, 50280, 50310, 50340, 50380, 50420, 50460, 50500, 50540, 50580, 50620, 50660, 50700, 50730,
             50760, 50790, 50830, 50870, 50910, 50950, 50990, 51100, 51140, 51180, 51220, 51260, 51300, 51495,
             51530, 51570, 51610, 51650, 51690, 51720, 51790, 51830, 51860, 51995, 52030, 52070, 52110, 52150,
             52200, 52240, 52270, 52300, 52340, 52375, 52410, 52445, 52500, 52550, 52600, 52650, 52700, 52750,
             52800, 52850, 52900, 52950, 53000, 53050, 53100, 53150, 53200, 53250, 53300, 53350, 53400, 53450,
             53500, 53550, 53600, 53650, 53700, 53750, 53800, 53850, 53900, 53950, 54000, 54040, 54080, 54120,
             54160, 54200, 54250, 54300, 54340, 54380, 54420, 54460, 54500, 54540, 54580, 54620, 54660, 54700,
             54776, 54820, 54860, 54900, 54940, 54985, 55030, 55070, 55110, 55150, 55190, 55230, 55270, 55310,
             55350, 55400, 55440, 55480, 55520, 55560, 55600, 55640, 55680, 55720, 55760, 55800, 55840, 55880,
             55920, 55960, 56000, 56040, 56070, 56100, 56130, 56160, 56200, 56240, 56280, 56320, 56360, 56400,
             56440, 56480, 56520, 56560, 56600, 56640, 56680, 56720, 56760, 56800, 56840, 56880, 56920, 56960,
             57000, 57040, 57080, 57120, 57160, 57200, 57240, 57280, 57320, 57360, 57400, 57440, 57480, 57520,
             57560, 57600, 57640, 57680, 57720, 57760, 57800, 57840, 57880, 57920, 57960]
mro20_flux = [38.6, 39.5, 40.9, 39.0, 40.0, 42.0, 41.0, 43.0, 44.9, 42.0, 43.0, 47.0, 50.0, 51.0,
              50.0, 49.0, 45.0, 43.0, 42.0, 43.0, 44.0, 43.0, 45.0, 42.0, 40.0, 44.0, 48.0, 55.0,
              54.0, 52.0, 50.0, 51.0, 49.0, 48.0, 46.0, 47.0, 48.0, 47.0, 46.0, 48.0, 45.0, 45.7,
              44.0, 43.0, 45.0, 42.0, 44.0, 43.0, 45.0, 45.0, 44.0, 36.0, 38.0, 40.0, 42.0, 41.0,
              43.0, 50.0, 54.0, 52.0, 48.0, 47.0, 43.0, 42.0, 40.0, 38.6, 37.5, 38.0, 36.5, 37.0,
              36.0, 35.0, 37.0, 35.5, 36.5, 35.0, 36.0, 34.6, 35.5, 36.0, 38.5, 39.0, 37.0, 35.5,
              36.5, 35.0, 36.0, 33.3, 34.5, 36.0, 38.6, 41.0, 43.0, 45.0, 46.6, 43.0, 40.0, 38.0,
              36.0, 35.0, 34.0, 33.3, 35.0, 37.5, 38.6, 38.0, 37.0, 38.5, 37.5, 39.0, 40.0, 36.6,
              39.0, 36.0, 34.0, 32.5, 31.0, 29.8, 30.5, 32.0, 33.5, 35.0, 35.5, 36.0, 35.0, 36.5,
              38.0, 41.0, 43.0, 44.0, 43.5, 44.5, 45.0, 44.0, 42.5, 45.0, 48.0, 50.0, 52.0, 51.0,
              53.0, 55.0, 57.0, 59.0, 60.6, 58.0, 56.0, 54.0, 53.0, 52.0, 51.0, 49.0, 48.0, 47.0,
              47.5, 48.0, 48.6, 50.0, 48.0, 47.0, 46.0, 44.0, 43.0, 42.4, 41.0, 40.0, 39.0, 38.6,
              39.0, 38.0, 39.5, 40.5, 40.0, 39.0, 38.5, 39.5, 40.5, 39.0, 38.0, 37.5, 37.0, 35.5,
              36.5, 35.0, 34.5, 33.3, 34.0, 33.5, 34.5, 35.5, 34.0, 33.5, 33.3]

mro15_mjd = [49720, 49760, 49800, 49840, 49870, 49970, 50000, 50040, 50080, 50110, 50140, 50170, 50200, 50230,
             50260, 50290, 50380, 50420, 50460, 50500, 50540, 50580, 50620, 50650, 50690, 50720, 50760, 50800,
             50840, 50880, 50920, 50960, 51000, 51040, 51080, 51120, 51160, 51200, 51240, 51280, 51310, 51495,
             51530, 51570, 51610, 51650, 51690, 51730, 51760, 51790, 51893, 51995, 52030, 52070, 52110, 52150,
             52200, 52240, 52280, 52320, 52360, 52400, 52480, 52520, 52560, 52600, 52640, 52680, 52720, 52760,
             52800, 52840, 52880, 52920, 52960, 53000, 53040, 53080, 53120, 53160, 53185]
mro15_flux = [33.3, 32.5, 33.0, 32.0, 33.5, 32.0, 33.0, 34.0, 35.0, 38.0, 42.0, 44.0, 46.0, 44.0,
              42.0, 40.0, 40.0, 41.0, 40.5, 41.5, 40.0, 41.0, 40.0, 41.5, 45.0, 50.0, 49.0, 47.0,
              46.0, 45.5, 46.0, 45.0, 45.5, 44.5, 45.0, 46.0, 45.0, 44.0, 45.0, 44.0, 43.5, 41.0,
              40.0, 41.0, 40.5, 39.5, 40.0, 41.0, 40.0, 39.5, 39.0, 38.0, 39.0, 40.0, 41.0, 41.5,
              40.0, 41.0, 42.0, 41.0, 40.5, 40.0, 33.0, 32.5, 33.5, 32.0, 31.5, 32.0, 31.0, 31.0,
              30.5, 31.5, 30.0, 30.5, 29.5, 30.0, 29.3, 30.5, 29.5, 30.0, 29.5]

ovro_mjd = [54430, 54470, 54510, 54550, 54590, 54630, 54670, 54710, 54750, 54790, 54830, 54846, 54880, 54920,
            54960, 55000, 55040, 55060, 55100, 55140, 55180, 55220, 55260, 55300, 55340, 55380, 55420, 55460,
            55500, 55540, 55580, 55620, 55660, 55700, 55745, 55780, 55820, 55860, 55900, 55940, 55980, 56020,
            56056, 56090, 56127, 56170, 56210, 56250, 56290, 56330, 56370, 56410, 56437, 56480, 56520, 56560,
            56600, 56640, 56680, 56720, 56760, 56800, 56850, 56955, 56990, 57030, 57070, 57110, 57150, 57190,
            57230, 57270, 57310, 57350, 57390, 57430, 57476, 57520, 57560, 57600, 57640, 57680, 57720, 57752,
            57790, 57830, 57870, 57910, 57950, 57990, 58030, 58070, 58110, 58150, 58190, 58230, 58270, 58310,
            58340, 58380, 58420, 58460, 58500, 58540, 58580, 58620, 58660, 58700, 58740, 58780, 58825, 58860,
            58900, 58940, 58980, 59020, 59060, 59100, 59140, 59206]
ovro_flux = [26.6, 27.0, 26.8, 27.5, 27.0, 27.8, 28.2, 27.5, 28.0, 28.7, 27.8, 28.0, 26.5, 25.0,
             24.0, 23.0, 22.0, 21.7, 22.0, 22.3, 21.8, 22.5, 23.0, 22.8, 23.5, 24.0, 25.7, 26.5,
             28.0, 29.5, 31.0, 32.0, 31.5, 31.0, 32.0, 33.3, 34.0, 34.5, 35.0, 36.0, 37.0, 38.0,
             43.0, 44.0, 43.0, 42.0, 41.5, 40.5, 41.0, 40.0, 40.5, 41.0, 40.5, 40.0, 41.0, 40.5,
             41.5, 42.0, 42.5, 41.5, 41.0, 40.0, 40.5, 36.0, 35.0, 33.5, 32.5, 33.0, 32.0, 32.5,
             33.0, 32.5, 31.5, 32.0, 32.5, 31.5, 31.0, 30.0, 29.0, 28.5, 28.0, 27.5, 27.0, 26.6,
             26.0, 25.7, 25.5, 25.8, 25.3, 25.5, 25.0, 25.2, 25.0, 24.8, 25.2, 24.8, 25.0, 24.8,
             24.8, 25.5, 25.0, 24.5, 24.2, 24.0, 24.3, 23.8, 23.5, 23.2, 23.0, 23.2, 23.0, 24.0,
             25.0, 25.5, 26.0, 25.5, 26.0, 25.7, 26.5, 27.7]

umrao5_mjd = [49720, 49750, 49780, 49810, 49840, 49870, 49900, 49990, 50020, 50050, 50080, 50110, 50140, 50170,
              50200, 50240, 50275, 50310, 50340, 50370, 50400, 50430, 50460, 50490, 50515, 50550, 50590, 50630,
              50660, 50690, 50720, 50750, 50790, 50830, 50870, 50910, 50950, 50990, 51030, 51060, 51100, 51140,
              51180, 51220, 51260, 51300, 51340, 51380, 51420, 51460, 51500, 51540, 51580, 51620, 51660, 51700,
              51740, 51780, 51820, 51860, 51900, 51940, 51980, 52020, 52060, 52100, 52140, 52180, 52220, 52260,
              52300, 52340, 52380, 52410, 52450, 52490, 52530, 52570, 52617, 52660, 52700, 52740, 52780, 52820,
              52860, 52893, 52930, 52970, 53010, 53050, 53090, 53130, 53170, 53210, 53236, 53270, 53310, 53350,
              53390, 53430, 53470, 53510, 53550, 53590, 53630, 53650, 53690, 53730, 53770, 53810, 53855, 53995,
              54030, 54060, 54090, 54120, 54160, 54200, 54240, 54280, 54320, 54340, 54380, 54420, 54460, 54500,
              54540, 54580, 54620, 54660, 54710, 54740, 54780, 54820, 54846, 54880, 54920, 54960, 55000, 55040,
              55088, 55123, 55160, 55200, 55240, 55280, 55320, 55360, 55400, 55440, 55470, 55504, 55540, 55580,
              55620, 55660, 55700, 55740, 55780, 55820, 55850, 55885, 55920, 55960, 56000, 56020, 56056, 56080,
              56100]
umrao5_flux = [22.0, 21.5, 22.3, 22.5, 21.8, 22.5, 23.0, 21.3, 22.0, 24.0, 25.0, 26.5, 27.0, 28.0,
               29.0, 29.8, 29.5, 28.5, 29.0, 27.6, 28.0, 29.0, 29.5, 30.0, 31.0, 32.0, 33.5, 34.5,
               36.0, 36.5, 37.9, 36.0, 35.5, 35.0, 34.5, 34.5, 35.0, 34.0, 33.5, 34.0, 33.0, 32.5,
               33.0, 32.0, 31.5, 31.0, 31.0, 31.5, 30.5, 30.0, 31.0, 30.5, 30.0, 30.5, 29.8, 30.0,
               29.5, 29.0, 28.5, 28.0, 28.5, 27.6, 27.0, 26.5, 26.0, 26.8, 26.0, 25.7, 26.0, 27.5,
               28.7, 28.0, 27.0, 26.0, 25.0, 24.0, 23.5, 22.5, 22.1, 21.3, 21.0, 20.5, 20.8, 20.0,
               19.8, 21.3, 20.5, 20.0, 19.5, 20.5, 19.0, 18.8, 19.5, 18.4, 19.0, 22.0, 21.5, 21.0,
               21.5, 20.5, 21.0, 21.5, 20.5, 21.0, 20.0, 20.5, 20.0, 19.5, 20.0, 19.0, 18.4, 25.7,
               26.6, 25.0, 24.0, 23.5, 22.5, 22.0, 21.5, 21.0, 20.5, 20.8, 22.9, 22.0, 22.5, 21.5,
               22.0, 21.3, 22.0, 21.5, 23.8, 23.0, 22.0, 22.5, 22.0, 19.0, 18.0, 17.5, 16.5, 16.0,
               15.8, 17.0, 16.5, 16.0, 16.5, 17.0, 16.5, 16.0, 16.5, 17.0, 16.2, 21.3, 22.5, 24.0,
               25.0, 26.0, 26.6, 26.0, 26.5, 27.0, 26.6, 29.8, 30.5, 31.5, 32.0, 32.7, 38.6, 40.0,
               40.9]

umrao2_mjd = [49720, 49760, 49800, 49840, 49880, 49990, 50030, 50070, 50110, 50150, 50190, 50230, 50270, 50310,
              50350, 50390, 50420, 50460, 50500, 50540, 50580, 50620, 50660, 50700, 50740, 50780, 50820, 50860,
              50900, 50940, 50980, 51030, 51070, 51110, 51150, 51190, 51230, 51270, 51310, 51350, 51480, 51520,
              51560, 51600, 51640, 51680, 51720, 51760, 51800, 51840, 51880, 51920, 51960, 52000, 52040, 52080,
              52120, 52170, 52210, 52250, 52290, 52330, 52370, 52410, 52450, 52490, 52530, 52570, 52610, 52650,
              52690, 52730, 52770, 52810, 52850, 52890, 52930, 52970, 53010, 53050, 53090, 53130, 53170, 53210,
              53250, 53290, 53330, 53370, 53410, 53450, 53490, 53530, 53570, 53610, 53650, 53690, 53730, 53770,
              53810, 53850, 53890, 53930, 53970, 54000, 54040, 54080, 54120, 54160, 54200, 54240, 54280, 54320,
              54362, 54400, 54440, 54480, 54520, 54560, 54600, 54640, 54680, 54720, 54760, 54800, 54846, 54880,
              54920, 54960, 55000, 55040, 55080, 55120, 55160, 55200, 55240, 55280, 55330, 55370, 55410, 55450,
              55500, 55540, 55574, 55610, 55650, 55690, 55730, 55770, 55810, 55850, 55890, 55930, 55970, 56020,
              56050, 56070, 56090]
umrao2_flux = [17.7, 17.2, 17.5, 17.0, 17.3, 15.8, 16.0, 16.5, 16.8, 17.0, 17.5, 17.8, 18.0, 18.5,
               18.8, 19.0, 19.8, 20.5, 21.5, 22.5, 23.5, 24.5, 25.0, 25.7, 27.0, 27.5, 28.0, 28.3,
               28.0, 28.7, 28.5, 28.0, 27.5, 28.0, 27.8, 27.5, 27.8, 27.2, 27.5, 27.0, 26.6, 26.5,
               26.8, 26.2, 26.5, 26.0, 26.3, 26.0, 25.7, 25.5, 25.2, 25.0, 24.8, 24.6, 24.3, 24.0,
               24.2, 23.8, 23.5, 23.2, 23.0, 22.8, 22.5, 22.3, 22.1, 22.0, 21.5, 20.5, 19.5, 19.0,
               18.6, 18.4, 17.5, 17.0, 16.6, 16.2, 16.0, 15.8, 16.2, 15.5, 15.2, 15.6, 15.0, 15.3,
               15.0, 16.0, 16.5, 17.0, 16.5, 16.0, 16.4, 15.6, 16.0, 15.5, 15.0, 17.0, 17.5, 18.0,
               18.4, 18.8, 19.0, 18.5, 19.2, 19.0, 18.0, 17.5, 17.0, 16.5, 16.0, 15.8, 16.5, 16.0,
               16.4, 16.2, 16.6, 16.0, 16.4, 15.8, 16.2, 16.0, 16.3, 15.9, 16.2, 15.8, 15.8, 15.0,
               14.2, 13.5, 13.0, 12.5, 12.2, 12.0, 11.8, 11.5, 11.6, 11.3, 12.0, 12.7, 12.5, 13.0,
               12.8, 13.0, 15.8, 16.5, 17.0, 17.5, 17.8, 18.0, 18.5, 18.8, 19.0, 19.3, 19.5, 19.8,
               24.0, 25.5, 27.0]

umrao48_mjd = [49720, 49760, 49800, 49840, 49880, 49990, 50030, 50070, 50110, 50150, 50190, 50230, 50270, 50310,
               50380, 50420, 50460, 50500, 50540, 50580, 50620, 50660, 50690, 50760, 50800, 50840, 50880, 50920,
               50960, 51000, 51040, 51080, 51135, 51175, 51215, 51255, 51295, 51335, 51375, 51415, 51445, 51480,
               51520, 51560, 51600, 51640, 51680, 51720, 51760, 51800, 51860, 51900, 51940, 51980, 52020, 52060,
               52100, 52140, 52170, 52210, 52250, 52290, 52330, 52370, 52410, 52450, 52490, 52530, 52570, 52610,
               52650, 52690, 52730, 52755, 52800, 52840, 52880, 52920, 52960, 53000, 53040, 53080, 53120, 53160,
               53200, 53240, 53270, 53305, 53345, 53385, 53425, 53465, 53505, 53545, 53585, 53625, 53650, 53685,
               53725, 53765, 53805, 53845, 53885, 53925, 53965, 54005, 54030, 54070, 54110, 54150, 54190, 54230,
               54270, 54310, 54340, 54380, 54420, 54460, 54500, 54540, 54580, 54620, 54660, 54700, 54740, 54780,
               54820, 54846, 54880, 54920, 54960, 55000, 55040, 55080, 55120, 55160, 55200, 55240, 55280, 55320,
               55360, 55400, 55504, 55540, 55580, 55620, 55660, 55700, 55740, 55780, 55815, 55850, 55890, 55930,
               55970, 56010, 56050, 56090, 56127]
umrao48_flux = [13.1, 12.8, 12.6, 12.4, 12.5, 11.7, 11.5, 11.6, 11.4, 11.3, 11.5, 11.2, 11.4, 11.3,
                11.8, 12.2, 12.6, 13.0, 13.3, 13.5, 13.7, 14.0, 14.0, 16.4, 16.8, 17.0, 16.6, 17.2,
                17.4, 17.0, 17.5, 17.7, 18.4, 18.0, 18.8, 19.0, 18.6, 19.3, 19.5, 19.8, 19.6, 20.5,
                20.8, 21.0, 20.6, 21.2, 21.0, 21.3, 20.8, 21.3, 21.3, 21.0, 20.8, 20.5, 20.2, 20.6,
                20.0, 19.8, 19.8, 19.2, 19.0, 18.6, 18.4, 18.0, 17.8, 17.4, 17.0, 16.4, 15.8, 15.0,
                14.6, 14.2, 13.8, 13.6, 13.1, 13.0, 12.8, 12.6, 12.8, 12.4, 12.6, 12.2, 12.5, 12.3,
                12.0, 12.2, 12.2, 12.6, 12.4, 12.0, 12.2, 11.8, 12.1, 11.7, 12.0, 11.8, 11.7, 13.1,
                13.3, 13.5, 13.6, 13.4, 13.6, 13.8, 13.5, 13.6, 13.6, 13.2, 13.0, 12.8, 12.6, 12.4,
                12.2, 12.3, 12.2, 12.2, 12.0, 11.8, 11.6, 11.5, 11.7, 11.4, 11.6, 11.3, 11.5, 11.4,
                11.3, 11.3, 9.7, 9.6, 9.4, 9.3, 9.2, 9.0, 9.3, 9.1, 9.0, 9.2, 9.0, 9.4,
                9.3, 9.6, 9.7, 10.0, 10.5, 11.0, 11.4, 11.6, 11.8, 12.0, 12.2, 12.2, 12.5, 12.8,
                13.0, 13.2, 13.4, 13.5, 13.6]

# ---------------- axes ----------------
mjd_range = [49718, 59580]
mjd_ticks = [49718, 50718, 51718, 52718, 53718, 54718, 55718, 56718, 57718, 58718]
mjd_tick_text = [str(v) for v in mjd_ticks]
year_range = [1995, 2021]
year_ticks = [1995, 2000, 2005, 2010, 2015, 2021]
year_tick_text = [str(v) for v in year_ticks]

panel_domains = [[0.8246, 1.0], [0.6324, 0.8113], [0.4446, 0.6200], [0.2542, 0.4314], [0.0655, 0.2409]]
panel_yrange = [[-1, 2.31], [-1, 1.30], [-1, 1.78], [-0.63, 2.04], [0.924, 1.862]]
panel_major = [[0.1, 1, 10, 100], [0.1, 1, 10], [0.1, 1, 10], [1, 10, 100], [10]]
panel_major_txt = [["10<sup>-1</sup>", "10<sup>0</sup>", "10<sup>1</sup>", "10<sup>2</sup>"],
                   ["10<sup>-1</sup>", "10<sup>0</sup>", "10<sup>1</sup>"],
                   ["10<sup>-1</sup>", "10<sup>0</sup>", "10<sup>1</sup>"],
                   ["10<sup>0</sup>", "10<sup>1</sup>", "10<sup>2</sup>"],
                   ["10<sup>1</sup>"]]
panel_titles = ["S<sub>γ</sub> (ph cm<sup>-2</sup>s<sup>-1</sup>)",
                "S<sub>X</sub> (ph cm<sup>-2</sup>s<sup>-1</sup>)",
                "S<sub>Optical</sub>  (mJy)",
                "S<sub>Infrared</sub> (mJy)",
                "S<sub>Radio</sub>  (Jy)"]
panel_letters = ["(a)", "(b)", "(c)", "(d)", "(e)"]

AX = "#404040"
FONT = "Liberation Sans, Arial, Helvetica, sans-serif"

fig = go.Figure()


def add(x, y, name, panel, symbol, color, size, legend, lw=1.0, err=None):
    kw = {}
    if err is not None:
        kw["error_y"] = dict(type="percent", value=err, color=color, thickness=1, width=0)
    fig.add_trace(go.Scatter(
        x=x, y=y, mode="markers", name=name,
        xaxis="x" if panel == 1 else f"x{panel}",
        yaxis="y" if panel == 1 else f"y{panel}",
        marker=dict(symbol=symbol, color=color, size=size, line=dict(color=color, width=lw)),
        legend=legend, showlegend=True, **kw))


NB = "\u00a0"
add(gamma_mjd, gamma_flux, "\u00d710<sup>-7</sup>" + NB * 3 + "<i>Fermi</i>-LAT (0.1-300 GeV)", 1,
    "circle", "black", 7.5, "legend", 0, err=40)

add(rxte_mjd, rxte_flux, "\u00d710<sup>-3</sup>" + NB * 3 + "<i>RXTE</i>-PCA (3-20 keV)", 2,
    "circle", "#ff0000", 8.5, "legend2", 0, err=35)
add(swift_mjd, swift_flux, "\u00d710<sup>-3</sup>" + NB * 3 + "<i>Swift</i>-XRT (0.3-10 keV)", 2,
    "x-thin", "#0000ff", 5, "legend2", 1.3)

add(optB_mjd, optB_flux, "SMARTS (B)", 3, "circle-open", "#0000ff", 6, "legend3", 1.2)
add(optV_mjd, optV_flux, "SMARTS + S16 (V)", 3, "x-thin", "#00e5ee", 5, "legend3", 1.3, err=15)
add(optR_mjd, optR_flux, "C08 + Tuorla + SMARTS + S16 + SKYNET (R)", 3, "triangle-up-open", "#ff0000", 7,
    "legend4", 1.0)
add(optI_mjd, optI_flux, "S16 (I)", 3, "square-open", "#111111", 4.5, "legend4", 1.0, err=15)

add(irJ_mjd, irJ_flux, "SMARTS + S16 (J)", 4, "circle-open", "#0000ff", 6, "legend5", 1.2)
add(irH_mjd, irH_flux, "S16 (H)", 4, "x-thin", "#00e5ee", 5, "legend5", 1.3)
add(irK_mjd, irK_flux, "S16 (K)", 4, "triangle-up-open", "#ff0000", 7, "legend5", 1.0, err=15)

add(mro20_mjd, mro20_flux, "MRO-20 (36.9 GHz)", 5, "circle-open", "#0000ff", 6, "legend6", 1.2)
add(mro15_mjd, mro15_flux, "MRO-15 (22.0 GHz)", 5, "x-thin", "#00e5ee", 5, "legend6", 1.3)
add(ovro_mjd, ovro_flux, "OVRO-10 (15.0 GHz)", 5, "triangle-up-open", "#ff0000", 7, "legend6", 1.0)
add(umrao5_mjd, umrao5_flux, "UMRAO-5 (14.5 GHz)", 5, "square-open", "#111111", 4.5, "legend7", 1.0)
add(umrao2_mjd, umrao2_flux, "UMRAO-2 (8.0 GHz)", 5, "triangle-left-open", "#00dd00", 7, "legend7", 1.0)
add(umrao48_mjd, umrao48_flux, "UMRAO (4.8 GHz)", 5, "triangle-right-open", "#ff00ff", 7, "legend7", 1.0)

# invisible anchor trace so that the epoch (year) axis is drawn
fig.add_trace(go.Scatter(x=year_range, y=[0.5, 0.5], xaxis="x6", yaxis="y6", mode="markers",
                         marker=dict(opacity=0), showlegend=False, hoverinfo="skip"))

# flare markers in panel (a)
for m, c in zip(flare_mjd, flare_colors):
    fig.add_shape(type="line", xref="x", yref="y domain", x0=m, x1=m, y0=0, y1=1,
                  line=dict(color=c, width=3.5, dash="14px,9px"))

layout = dict(
    width=1083, height=1186,
    margin=dict(l=74, r=20, t=5, b=52, autoexpand=False),
    plot_bgcolor="white", paper_bgcolor="white",
    font=dict(family=FONT, size=14, color="black"),
)

for i in range(5):
    k = i + 1
    xa = "xaxis" if k == 1 else f"xaxis{k}"
    ya = "yaxis" if k == 1 else f"yaxis{k}"
    yid = "y" if k == 1 else f"y{k}"
    lo, hi = panel_yrange[i]
    minor_vals = []
    for e in range(-2, 3):
        for mnt in range(2, 10):
            v = mnt * 10 ** e
            if 10 ** lo <= v <= 10 ** hi:
                minor_vals.append(v)
    layout[xa] = dict(domain=[0, 1], anchor=yid, range=mjd_range, showline=True, linecolor=AX, linewidth=1,
                      mirror="ticks", ticks="inside", ticklen=9, tickcolor=AX, tickmode="array",
                      tickvals=mjd_ticks, ticktext=mjd_tick_text, automargin=False,
                      showticklabels=(k == 5), showgrid=False, zeroline=False,
                      tickfont=dict(size=14))
    layout[ya] = dict(domain=panel_domains[i], anchor="x" if k == 1 else f"x{k}", type="log", range=[lo, hi],
                      showline=True, linecolor=AX, linewidth=1, mirror="ticks", ticks="inside", ticklen=7,
                      tickcolor=AX, tickmode="array", tickvals=panel_major[i], ticktext=panel_major_txt[i],
                      minor=dict(tickmode="array", tickvals=minor_vals, ticks="inside", ticklen=4,
                                 tickcolor=AX, showgrid=False),
                      showgrid=False, zeroline=False, tickfont=dict(size=14), automargin=False,
                      title=dict(text=panel_titles[i], font=dict(size=16), standoff=15))

layout["xaxis5"]["title"] = dict(text="Day of observation (MJD)", font=dict(size=15), standoff=9)

# epoch (year) axis drawn as a separate axis under the panels
layout["xaxis6"] = dict(domain=[0, 1], anchor="y6", range=year_range, tickmode="array", tickvals=year_ticks,
                        ticktext=year_tick_text, automargin=False, ticklabelstandoff=10,
                        showline=True, linecolor=AX, linewidth=1, ticks="inside", ticklen=10, tickcolor=AX,
                        showgrid=False, zeroline=False, tickfont=dict(size=14),
                        title=dict(text="Epoch of observation (yr)", font=dict(size=15), standoff=2))
layout["yaxis6"] = dict(domain=[0, 0.002], anchor="x6", visible=False, range=[0, 1], automargin=False)

leg_common = dict(bgcolor="rgba(0,0,0,0)", borderwidth=0, font=dict(size=13), xanchor="left", yanchor="top",
                  tracegroupgap=0, itemwidth=30)
layout["legend"] = dict(leg_common, x=0.009, y=0.854)
layout["legend2"] = dict(leg_common, x=0.752, y=0.682)
layout["legend3"] = dict(leg_common, x=0.007, y=0.4907)
layout["legend4"] = dict(leg_common, x=0.153, y=0.4907)
layout["legend5"] = dict(leg_common, x=0.007, y=0.3162)
layout["legend6"] = dict(leg_common, x=0.648, y=0.1275)
layout["legend7"] = dict(leg_common, x=0.811, y=0.1275)

fig.update_layout(**layout)

for i in range(5):
    k = i + 1
    fig.add_annotation(text=panel_letters[i], xref="x domain" if k == 1 else f"x{k} domain",
                       yref="y domain" if k == 1 else f"y{k} domain", x=0.019, y=0.97,
                       xanchor="left", yanchor="top", showarrow=False, font=dict(size=16))

# remove the browser's default page margin so the figure sits at the page corner
fig.write_html("out.html", config={"displayModeBar": False},
               post_script="document.body.style.margin='0px';")
